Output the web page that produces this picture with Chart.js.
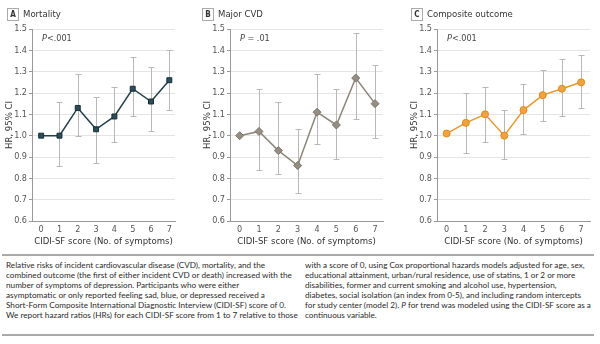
<!DOCTYPE html>
<html>
<head>
<meta charset="utf-8">
<script src="https://cdn.jsdelivr.net/npm/chart.js@4.4.1/dist/chart.umd.min.js"></script>
<style>
  body { margin: 0; background: #fff; width: 600px; height: 344px; position: relative; overflow: hidden; }
  canvas { position: absolute; top: 0; }
  .hdr { position: absolute; top: 8px; font: 9.5px "Liberation Sans Narrow", "DejaVu Sans Condensed", sans-serif; color: #333; white-space: nowrap; }
  .hdr .box { display: inline-block; width: 10px; height: 11px; border: 1px solid #aaa; text-align: center; line-height: 11px; font-size: 8px; font-weight: bold; color: #333; margin-right: 4px; vertical-align: middle; }
  .rule { position: absolute; left: 2px; width: 592px; height: 2px; background: #aaa; }
  .cap { position: absolute; top: 260px; font: 8.2px Lato, sans-serif; line-height: 10px; color: #2a2a2a; white-space: nowrap; }
</style>
</head>
<body>
<canvas id="cA" width="182" height="250" style="left:0px"></canvas>
<canvas id="cB" width="190" height="250" style="left:198px"></canvas>
<canvas id="cC" width="195" height="250" style="left:405px"></canvas>

<div class="hdr" style="left:7px"><span class="box">A</span>Mortality</div>
<div class="hdr" style="left:202px"><span class="box">B</span>Major CVD</div>
<div class="hdr" style="left:411px"><span class="box">C</span>Composite outcome</div>

<div class="rule" style="top:254px"></div>
<div class="cap" style="left:6px">
Relative risks of incident cardiovascular disease (CVD), mortality, and the<br>
combined outcome (the first of either incident CVD or death) increased with the<br>
number of symptoms of depression. Participants who were either<br>
asymptomatic or only reported feeling sad, blue, or depressed received a<br>
Short-Form Composite International Diagnostic Interview (CIDI-SF) score of 0.<br>
We report hazard ratios (HRs) for each CIDI-SF score from 1 to 7 relative to those
</div>
<div class="cap" style="left:305px">
with a score of 0, using Cox proportional hazards models adjusted for age, sex,<br>
educational attainment, urban/rural residence, use of statins, 1 or 2 or more<br>
disabilities, former and current smoking and alcohol use, hypertension,<br>
diabetes, social isolation (an index from 0-5), and including random intercepts<br>
for study center (model 2). <i>P</i> for trend was modeled using the CIDI-SF score as a<br>
continuous variable.
</div>
<div class="rule" style="top:334px"></div>

<script>
const scores = [0, 1, 2, 3, 4, 5, 6, 7];
const yTicks = [0.6, 0.7, 0.8, 0.9, 1.0, 1.1, 1.2, 1.3, 1.4, 1.5];

const mortalityHR = [1.00, 1.00, 1.13, 1.03, 1.09, 1.22, 1.16, 1.26];
const mortalityLow = [null, 0.86, 1.00, 0.87, 0.97, 1.09, 1.02, 1.12];
const mortalityHigh = [null, 1.16, 1.29, 1.18, 1.23, 1.37, 1.32, 1.40];

const cvdHR = [1.00, 1.02, 0.93, 0.86, 1.11, 1.05, 1.27, 1.15];
const cvdLow = [null, 0.84, 0.82, 0.73, 0.96, 0.89, 1.08, 0.99];
const cvdHigh = [null, 1.22, 1.16, 1.03, 1.29, 1.22, 1.48, 1.33];

const compositeHR = [1.01, 1.06, 1.10, 1.00, 1.12, 1.19, 1.22, 1.25];
const compositeLow = [null, 0.92, 0.97, 0.89, 1.01, 1.07, 1.09, 1.13];
const compositeHigh = [null, 1.20, 1.23, 1.12, 1.24, 1.31, 1.36, 1.38];

const font = '"Liberation Sans Narrow", "DejaVu Sans Condensed", sans-serif';
Chart.defaults.font.family = font;
Chart.defaults.color = "#555";

// draws the 95% CI whiskers under the line
const errorBars = {
  id: "errorBars",
  beforeDatasetsDraw(chart, args, opts) {
    const { ctx, scales: { x, y } } = chart;
    ctx.save();
    ctx.strokeStyle = "#b8b8b8";
    ctx.lineWidth = 1;
    opts.low.forEach((lo, i) => {
      if (lo == null) return;
      const px = Math.round(x.getPixelForValue(scores[i])) + 0.5;
      const y1 = Math.round(y.getPixelForValue(lo)) + 0.5;
      const y2 = Math.round(y.getPixelForValue(opts.high[i])) + 0.5;
      ctx.beginPath();
      ctx.moveTo(px, y1); ctx.lineTo(px, y2);
      ctx.moveTo(px - 3, y1); ctx.lineTo(px + 3, y1);
      ctx.moveTo(px - 3, y2); ctx.lineTo(px + 3, y2);
      ctx.stroke();
    });
    ctx.restore();
  },
};

// "P < .001" note in the top left of the plot
const pNote = {
  id: "pNote",
  afterDraw(chart, args, opts) {
    const { ctx, chartArea } = chart;
    ctx.save();
    ctx.fillStyle = "#444";
    ctx.textBaseline = "middle";
    let x = chartArea.left + 10;
    const y = chartArea.top + 10;
    ctx.font = "italic 9px " + font;
    ctx.fillText("P", x, y);
    x += ctx.measureText("P").width;
    ctx.font = "9px " + font;
    ctx.fillText(opts.text, x, y);
    ctx.restore();
  },
};

const makePanel = (id, hr, low, high, pText, style, xMax, padRight) => {
  new Chart(document.getElementById(id), {
    type: "line",
    data: {
      datasets: [
        {
          data: scores.map((s, i) => ({ x: s, y: hr[i] })),
          borderColor: style.line,
          borderWidth: 1.5,
          pointStyle: style.shape,
          pointRadius: style.radius,
          pointBackgroundColor: style.fill,
          pointBorderColor: style.edge,
          pointBorderWidth: 1,
          tension: 0,
        },
      ],
    },
    options: {
      responsive: false,
      animation: false,
      devicePixelRatio: 1,
      layout: { padding: { top: 29, right: padRight, bottom: 0, left: 0 } },
      scales: {
        x: {
          type: "linear",
          min: -0.5,
          max: xMax,
          afterBuildTicks: (scale) => { scale.ticks = scores.map((v) => ({ value: v })); },
          afterFit: (scale) => { scale.height = 29; },
          grid: { display: false, drawTicks: false },
          border: { color: "#999", width: 1 },
          ticks: { font: { size: 9 }, color: "#555", padding: 3, callback: (v) => String(v) },
          title: { display: true, text: "CIDI-SF score (No. of symptoms)", font: { size: 9.5 }, color: "#333", padding: { top: 2, bottom: 3 } },
        },
        y: {
          min: 0.6,
          max: 1.5,
          afterBuildTicks: (scale) => { scale.ticks = yTicks.map((v) => ({ value: v })); },
          afterFit: (scale) => { scale.width = 32; },
          grid: { color: "#e4e4e4", tickColor: "#999", tickLength: 3 },
          border: { color: "#999", width: 1 },
          ticks: { font: { size: 9 }, color: "#555", padding: 2, callback: (v) => Number(v).toFixed(1) },
          title: { display: true, text: "HR, 95% CI", font: { size: 9.5 }, color: "#333", padding: 4 },
        },
      },
      plugins: {
        legend: { display: false },
        tooltip: { enabled: false },
        errorBars: { low, high },
        pNote: { text: pText },
      },
    },
    plugins: [errorBars, pNote],
  });
};

makePanel("cA", mortalityHR, mortalityLow, mortalityHigh, "<.001",
  { line: "#22404b", fill: "#2d4d59", edge: "#172f38", shape: "rect", radius: 3.5 }, 7.31, 7);
makePanel("cB", cvdHR, cvdLow, cvdHigh, " = .01",
  { line: "#8d877a", fill: "#958f83", edge: "#7a7468", shape: "rectRot", radius: 4 }, 7.41, 5);
makePanel("cC", compositeHR, compositeLow, compositeHigh, "<.001",
  { line: "#e8962e", fill: "#f0a33e", edge: "#dc8a1f", shape: "circle", radius: 3.5 }, 7.46, 10);
</script>
</body>
</html>
